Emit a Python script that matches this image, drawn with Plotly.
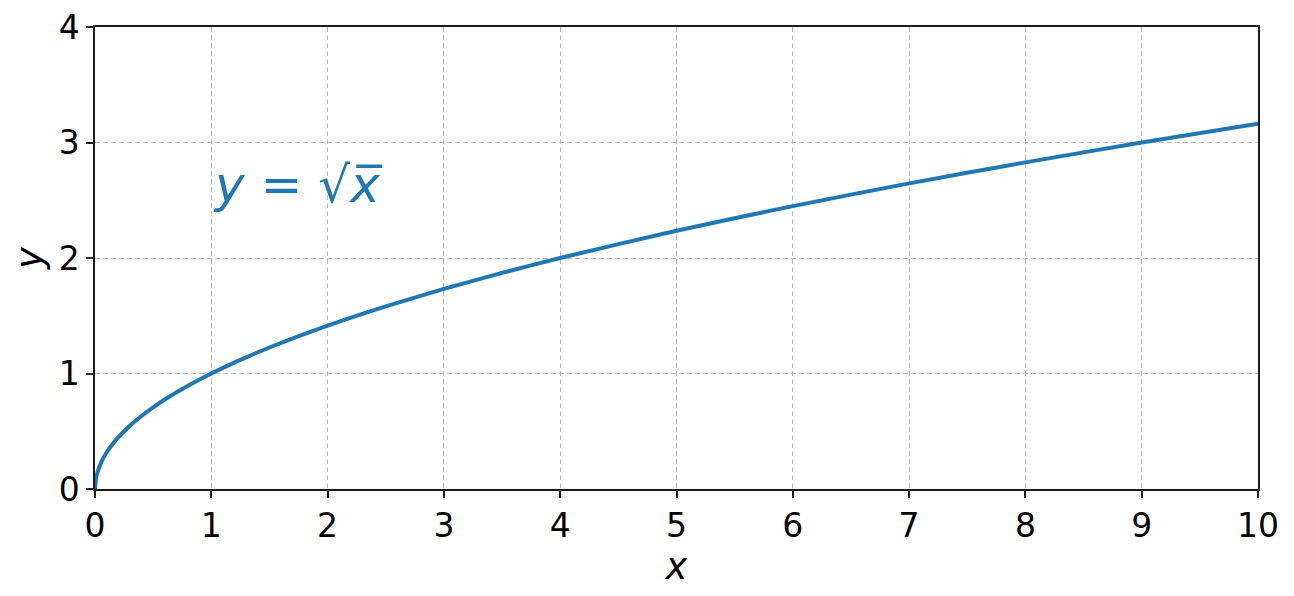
import plotly.graph_objects as go

# values
x_vals = [0, 0.01, 0.03, 0.06, 0.1, 0.15, 0.2, 0.3, 0.4, 0.5, 0.6, 0.8, 1.0,
          1.25, 1.5, 2.0, 2.5, 3.0, 3.5, 4.0, 5.0, 6.0, 7.0, 8.0, 9.0, 10.0]
y_vals = [0, 0.10, 0.17, 0.245, 0.316, 0.387, 0.447, 0.548, 0.632, 0.707, 0.775,
          0.894, 1.0, 1.118, 1.225, 1.414, 1.581, 1.732, 1.871, 2.0, 2.236,
          2.449, 2.646, 2.828, 3.0, 3.162]
x_ticks = [0, 1, 2, 3, 4, 5, 6, 7, 8, 9, 10]
y_ticks = [0, 1, 2, 3, 4]
label_text = "<i>y</i> = √<i>x\u0305</i>"

fig = go.Figure()
fig.add_trace(go.Scatter(x=x_vals, y=y_vals, mode="lines",
                         line=dict(color="#1f77b4", width=4, shape="spline", smoothing=0.6),
                         showlegend=False))

fig.add_annotation(x=1.0, y=2.63, xref="x", yref="y", text=label_text,
                   showarrow=False, xanchor="left", yanchor="middle",
                   font=dict(family="DejaVu Sans", size=50, color="#1f77b4"))

axis_common = dict(showline=True, linecolor="#1a1a1a", linewidth=1.5, mirror=True,
                   ticks="outside", ticklen=7, tickwidth=1.5, tickcolor="#1a1a1a",
                   showgrid=True, gridcolor="#bdbdbd", gridwidth=1.2, griddash="5px,3px",
                   zeroline=False, ticklabeloverflow="allow", automargin=False,
                   tickfont=dict(family="DejaVu Sans", size=33, color="black"))

fig.update_xaxes(range=[0, 10], tickvals=x_ticks, ticktext=[str(t) for t in x_ticks],
                 title=dict(text="<i>x</i>", font=dict(family="DejaVu Sans", size=37, color="black"),
                            standoff=8), **axis_common)
fig.update_yaxes(range=[0, 4], tickvals=y_ticks, ticktext=[str(t) for t in y_ticks],
                 title=dict(text="<i>y</i>", font=dict(family="DejaVu Sans", size=37, color="black"),
                            standoff=8), **axis_common)

fig.update_layout(width=1294, height=596, plot_bgcolor="white", paper_bgcolor="white",
                  margin=dict(l=87, r=44, t=19, b=115),
                  font=dict(family="DejaVu Sans"))

fig.write_html("out.html")
